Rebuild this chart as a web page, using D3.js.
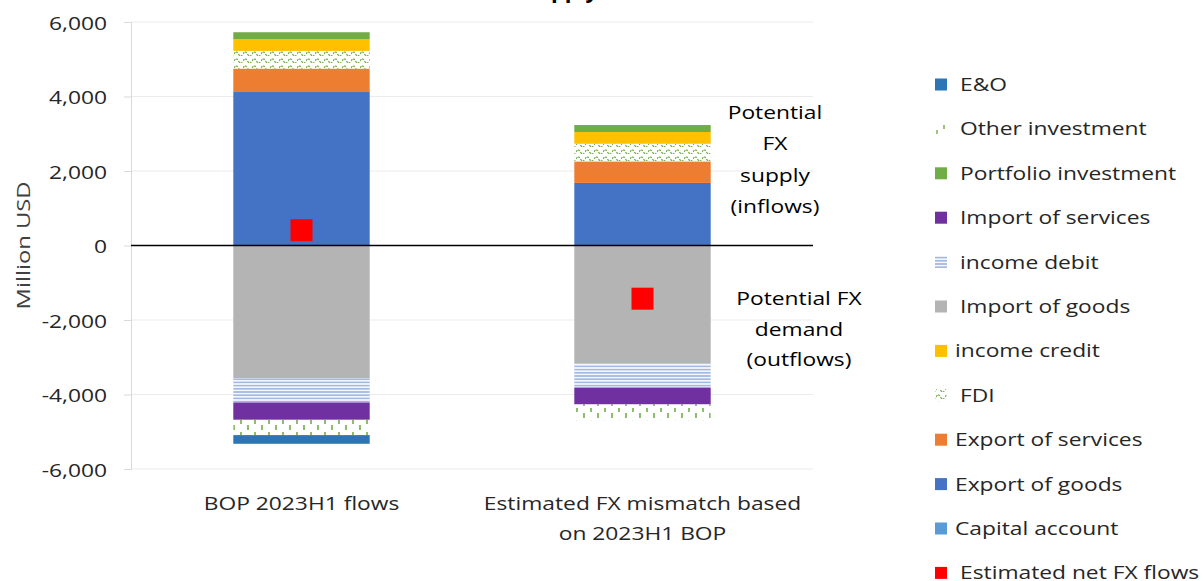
<!DOCTYPE html>
<html>
<head>
<meta charset="utf-8">
<script src="https://cdn.jsdelivr.net/npm/d3@7"></script>
<style>
  html, body { margin: 0; padding: 0; background: #ffffff; }
  svg { display: block; font-family: "Open Sans", "Noto Sans", sans-serif; }
</style>
</head>
<body>
<svg id="chart" width="1203" height="581"></svg>
<script>
// ---------------- data ----------------
const categories = ["BOP 2023H1 flows", "Estimated FX mismatch based on 2023H1 BOP"];
const categoryLines = [["BOP 2023H1 flows"], ["Estimated FX mismatch based", "on 2023H1 BOP"]];

// series in stacking order (legend shows them reversed)
const seriesNames = ["Capital account", "Export of goods", "Export of services", "FDI", "income credit",
  "Import of goods", "income debit", "Import of services", "Portfolio investment", "Other investment", "E&O"];

const capitalAccount   = [0, 0];
const exportGoods      = [4120, 1680];
const exportServices   = [630, 578];
const fdi              = [474, 474];
const incomeCredit     = [313, 314];
const importGoods      = [-3571, -3170];
const incomeDebit      = [-643, -643];
const importServices   = [-466, -455];
const portfolio        = [188, 188];
const otherInvestment  = [-410, -420];
const errorsOmissions  = [-233, 0];
const netFXFlows       = [410, -1428];

const yTicks = [-6000, -4000, -2000, 0, 2000, 4000, 6000];

const seriesValues = [capitalAccount, exportGoods, exportServices, fdi, incomeCredit,
  importGoods, incomeDebit, importServices, portfolio, otherInvestment, errorsOmissions];

const legendOrder = ["E&O", "Other investment", "Portfolio investment", "Import of services", "income debit",
  "Import of goods", "income credit", "FDI", "Export of services", "Export of goods", "Capital account",
  "Estimated net FX flows"];

// ---------------- styles ----------------
const FS = 19, SX = 1.2;
const fills = {
  "Capital account": "#5b9bd5",
  "Export of goods": "#4472c4",
  "Export of services": "#ed7d31",
  "FDI": "url(#pFDI)",
  "income credit": "#ffc000",
  "Import of goods": "#b4b4b4",
  "income debit": "url(#pDebit)",
  "Import of services": "#7030a0",
  "Portfolio investment": "#70ad47",
  "Other investment": "url(#pOther)",
  "E&O": "#2e75b6",
  "Estimated net FX flows": "#ff0000"
};

const svg = d3.select("#chart");
const defs = svg.append("defs");

function label(parent, x, y, t, anchor, color) {
  return parent.append("text")
    .attr("transform", `translate(${x},${y}) scale(${SX},1)`)
    .attr("text-anchor", anchor || "start")
    .attr("font-size", FS).attr("fill", color || "#262626").text(t);
}

// FDI wave pattern
const pF = defs.append("pattern").attr("id", "pFDI").attr("patternUnits", "userSpaceOnUse")
  .attr("width", 9).attr("height", 7);
pF.append("rect").attr("width", 9).attr("height", 7).attr("fill", "#ffffff");
pF.append("path").attr("d", "M0,5 Q2.25,1 4.5,5 T9,5").attr("fill", "none")
  .attr("stroke", "#70ad47").attr("stroke-width", 1.3).attr("stroke-dasharray", "2,1");

// Other investment dash pattern
const pO = defs.append("pattern").attr("id", "pOther").attr("patternUnits", "userSpaceOnUse")
  .attr("width", 14).attr("height", 12);
pO.append("rect").attr("width", 14).attr("height", 12).attr("fill", "#ffffff");
pO.append("line").attr("x1", 3).attr("x2", 3).attr("y1", 0).attr("y2", 4)
  .attr("stroke", "#70ad47").attr("stroke-width", 1.6);
pO.append("line").attr("x1", 10).attr("x2", 10).attr("y1", 5).attr("y2", 10)
  .attr("stroke", "#70ad47").attr("stroke-width", 1.6);

// income debit horizontal line pattern
const pD = defs.append("pattern").attr("id", "pDebit").attr("patternUnits", "userSpaceOnUse")
  .attr("width", 6).attr("height", 3.2);
pD.append("rect").attr("width", 6).attr("height", 3.2).attr("fill", "#f4f7fc");
pD.append("line").attr("x1", 0).attr("x2", 6).attr("y1", 1.6).attr("y2", 1.6)
  .attr("stroke", "#8eaadb").attr("stroke-width", 1.3);

// ---------------- scales ----------------
const plotLeft = 131, plotRight = 813;
const x = d3.scaleBand().domain(categories).range([plotLeft, plotRight]).paddingInner(0).paddingOuter(0);
const y = d3.scaleLinear().domain([-6000, 6000]).range([469, 22]);
const barW = x.bandwidth() * 0.4;

const fmt = d3.formatLocale({decimal: ".", thousands: ",", grouping: [3], currency: ["$", ""], minus: "-"}).format(",");

// gridlines
svg.append("g").selectAll("line").data(yTicks.filter(d => d !== 0)).join("line")
  .attr("x1", plotLeft).attr("x2", plotRight)
  .attr("y1", d => y(d)).attr("y2", d => y(d))
  .attr("stroke", "#ebebeb").attr("stroke-width", 1);

// y axis
const yAxis = svg.append("g").attr("transform", `translate(${plotLeft},0)`)
  .call(d3.axisLeft(y).tickValues(yTicks).tickFormat(fmt).tickSize(7).tickPadding(0));
yAxis.select(".domain").attr("stroke", "#d9d9d9");
yAxis.selectAll(".tick line").attr("stroke", "#d9d9d9");
yAxis.selectAll(".tick text")
  .attr("x", 0).attr("dy", null).attr("y", 0)
  .attr("transform", `translate(-24,7) scale(${SX},1)`)
  .attr("font-size", FS).attr("fill", "#262626")
  .attr("font-family", "'Open Sans', sans-serif");

// y axis title
svg.append("text").attr("transform", `translate(30,${y(0)}) rotate(-90) scale(1.25,1)`)
  .attr("text-anchor", "middle").attr("font-size", FS).attr("fill", "#404040").text("Million USD");

// title (cut off at top of image)
svg.append("text").attr("x", 598).attr("y", -2).attr("text-anchor", "end")
  .attr("font-size", 22).attr("font-weight", "bold").attr("fill", "#000")
  .text("Potential FX demand and supply");

// ---------------- stacked bars ----------------
const table = categories.map((c, i) => {
  const row = {category: c};
  seriesNames.forEach((s, j) => { row[s] = seriesValues[j][i]; });
  return row;
});
const stacked = d3.stack().keys(seriesNames).offset(d3.stackOffsetDiverging)(table);

svg.append("g").selectAll("g").data(stacked).join("g")
  .attr("fill", d => fills[d.key])
  .selectAll("rect").data(d => d).join("rect")
  .attr("x", d => x(d.data.category) + (x.bandwidth() - barW) / 2)
  .attr("width", barW)
  .attr("y", d => y(Math.max(d[0], d[1])))
  .attr("height", d => Math.abs(y(d[0]) - y(d[1])));

// zero line
svg.append("line").attr("x1", plotLeft).attr("x2", plotRight)
  .attr("y1", y(0)).attr("y2", y(0)).attr("stroke", "#000").attr("stroke-width", 1.5);

// net FX markers
const mk = 22;
svg.append("g").selectAll("rect").data(netFXFlows).join("rect")
  .attr("x", (d, i) => x(categories[i]) + x.bandwidth() / 2 - mk / 2)
  .attr("y", d => y(d) - mk / 2)
  .attr("width", mk).attr("height", mk).attr("fill", fills["Estimated net FX flows"]);

// category labels
categoryLines.forEach((lines, i) => {
  lines.forEach((t, k) => {
    label(svg, x(categories[i]) + x.bandwidth() / 2, 510 + k * 30, t, "middle");
  });
});

// annotations
const ann1 = ["Potential", "FX", "supply", "(inflows)"];
ann1.forEach((t, k) => label(svg, 775, 119 + k * 31.3, t, "middle", "#000"));
const ann2 = ["Potential FX", "demand", "(outflows)"];
ann2.forEach((t, k) => label(svg, 799, 305 + k * 30.5, t, "middle", "#000"));

// ---------------- legend ----------------
const lg = svg.append("g");
legendOrder.forEach((name, i) => {
  const cy = 84.5 + i * 44.4;
  const g = lg.append("g");
  if (name === "Other investment") {
    g.append("line").attr("x1", 937).attr("x2", 937).attr("y1", cy + 1).attr("y2", cy + 5)
      .attr("stroke", "#70ad47").attr("stroke-width", 1.4);
    g.append("line").attr("x1", 944).attr("x2", 944).attr("y1", cy - 4).attr("y2", cy)
      .attr("stroke", "#70ad47").attr("stroke-width", 1.4);
  } else if (name === "FDI") {
    g.append("rect").attr("x", 935).attr("y", cy - 6).attr("width", 12).attr("height", 12).attr("fill", "url(#pFDI)");
  } else {
    g.append("rect").attr("x", 935).attr("y", cy - 6).attr("width", 12).attr("height", 12).attr("fill", fills[name]);
  }
  label(g, name === "income credit" || name === "Export of services" || name === "Export of goods" || name === "Capital account" ? 955 : 960,
    cy + 6.5, name);
});
</script>
</body>
</html>
